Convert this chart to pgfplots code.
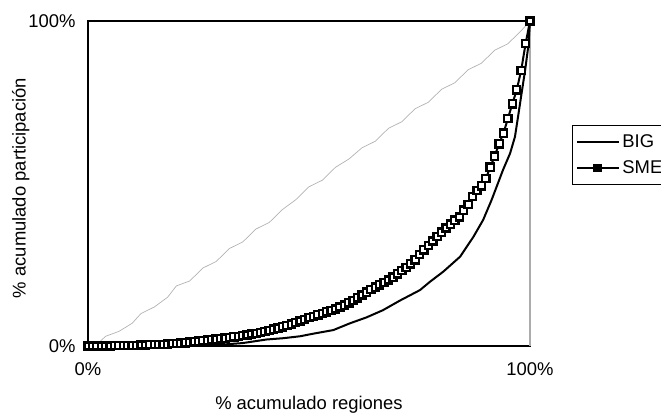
\documentclass[border=0pt]{standalone}
\usepackage{fontspec}
\setmainfont{Liberation Sans}
\usepackage{pgfplots}
\pgfplotsset{compat=1.18}

\begin{document}
\begin{tikzpicture}
\begin{axis}[
  at={(0,0)}, anchor=south west,
  scale only axis, width=442bp, height=325bp,
  xmin=0, xmax=1, ymin=0, ymax=1,
  xtick={0,1}, xticklabels={0\%,100\%},
  ytick={0,1}, yticklabels={0\%,100\%},
  major tick length=0pt,
  /pgf/number format/assume math mode=true,
  tick label style={font=\fontsize{18.5}{21}\selectfont},
  label style={font=\fontsize{18.5}{21}\selectfont},
  xticklabel style={yshift=-13bp},
  yticklabel style={xshift=-9bp},
  xlabel={\% acumulado regiones},
  ylabel={\% acumulado participación},
  xlabel style={at={(axis description cs:0.5,-0.18)}, anchor=center},
  ylabel style={at={(axis description cs:-0.152,0.486)}, anchor=center},
  axis line style={black, line width=1.2bp},
  clip=false,
  legend style={at={(axis description cs:1.095,0.68)}, anchor=north west,
    draw=black, line width=0.9bp, font=\fontsize{18.5}{21}\selectfont,
    inner xsep=4bp, inner ysep=7bp, row sep=8bp,
    cells={anchor=west}},
  legend cell align=left,
]
% diagonal de igualdad
\addplot[gray!60, line width=0.7bp, forget plot] coordinates {
(0,0)(0.02,0.005)(0.04,0.03)(0.07,0.045)(0.10,0.07)(0.12,0.10)(0.15,0.12)
(0.18,0.15)(0.20,0.185)(0.23,0.20)(0.26,0.24)(0.29,0.26)(0.32,0.30)
(0.35,0.32)(0.38,0.36)(0.41,0.38)(0.44,0.42)(0.47,0.45)(0.50,0.49)
(0.53,0.51)(0.56,0.55)(0.59,0.575)(0.62,0.61)(0.65,0.63)(0.68,0.67)
(0.71,0.69)(0.74,0.73)(0.77,0.75)(0.80,0.79)(0.83,0.81)(0.86,0.85)
(0.89,0.87)(0.92,0.91)(0.95,0.93)(0.98,0.97)(1,1)};
\addplot[gray!65, line width=1.4bp, forget plot] coordinates {(1,0)(1,1)};

\addplot[black, line width=2bp, line join=round,
  legend image code/.code={
    \draw[black, line width=2bp] (0bp,0bp) -- (42bp,0bp);}
] coordinates {
(0,0)(0.10,0.0)(0.20,0.001)(0.29,0.003)(0.35,0.009)(0.404,0.02)
(0.442,0.024)(0.48,0.03)(0.51,0.038)(0.555,0.049)(0.593,0.07)
(0.63,0.088)(0.667,0.11)(0.706,0.14)(0.751,0.172)(0.774,0.198)
(0.804,0.229)(0.842,0.275)(0.872,0.336)(0.894,0.388)(0.913,0.449)
(0.939,0.542)(0.955,0.593)(0.966,0.644)(0.973,0.706)(0.981,0.778)
(0.989,0.849)(0.996,0.921)(1.0,1.0)};
\addlegendentry{BIG}

\addplot[black, line width=2bp, mark=square*,
  mark size=3.6bp, mark options={fill=white, draw=black, line width=2.3bp},
  legend image code/.code={
    \draw[black, line width=2bp] (0bp,0bp) -- (42bp,0bp);
    \fill[black] (17bp,-3.3bp) rectangle (24bp,3.3bp);}
] coordinates {
(0.00,0.000)(0.01,0.000)(0.02,0.000)(0.03,0.000)(0.04,0.000)(0.05,0.000)
(0.06,0.001)(0.07,0.001)(0.08,0.001)(0.09,0.002)(0.10,0.002)(0.11,0.002)
(0.12,0.003)(0.13,0.003)(0.14,0.004)(0.15,0.004)(0.16,0.005)(0.17,0.005)
(0.18,0.006)(0.19,0.007)(0.20,0.008)(0.21,0.009)(0.22,0.010)(0.23,0.012)
(0.24,0.013)(0.25,0.015)(0.26,0.016)(0.27,0.018)(0.28,0.019)(0.29,0.021)
(0.30,0.022)(0.31,0.024)(0.32,0.026)(0.33,0.028)(0.34,0.030)(0.35,0.032)
(0.36,0.034)(0.37,0.037)(0.38,0.039)(0.39,0.042)(0.40,0.045)(0.41,0.048)
(0.42,0.052)(0.43,0.055)(0.44,0.059)(0.45,0.063)(0.46,0.067)(0.47,0.072)
(0.48,0.077)(0.49,0.082)(0.50,0.087)(0.51,0.091)(0.52,0.096)(0.53,0.100)
(0.54,0.105)(0.55,0.109)(0.56,0.114)(0.57,0.120)(0.58,0.126)(0.59,0.133)
(0.60,0.140)(0.61,0.148)(0.62,0.157)(0.63,0.166)(0.64,0.174)(0.65,0.181)
(0.66,0.188)(0.67,0.195)(0.68,0.203)(0.69,0.212)(0.70,0.222)(0.71,0.232)
(0.72,0.242)(0.73,0.253)(0.74,0.265)(0.75,0.282)(0.76,0.296)(0.77,0.310)
(0.78,0.323)(0.79,0.337)(0.80,0.350)(0.81,0.363)(0.82,0.375)(0.83,0.387)
(0.84,0.397)(0.85,0.418)(0.86,0.435)(0.87,0.460)(0.88,0.478)(0.89,0.493)
(0.90,0.515)(0.91,0.550)(0.92,0.584)(0.93,0.622)(0.94,0.655)(0.95,0.700)
(0.96,0.745)(0.97,0.788)(0.98,0.848)(0.99,0.930)(1.00,1.000)};
\addlegendentry{SME}
\end{axis}
\pgfresetboundingbox
\useasboundingbox (-88bp,-73bp) rectangle (573bp,346bp);
\end{tikzpicture}
\end{document}
